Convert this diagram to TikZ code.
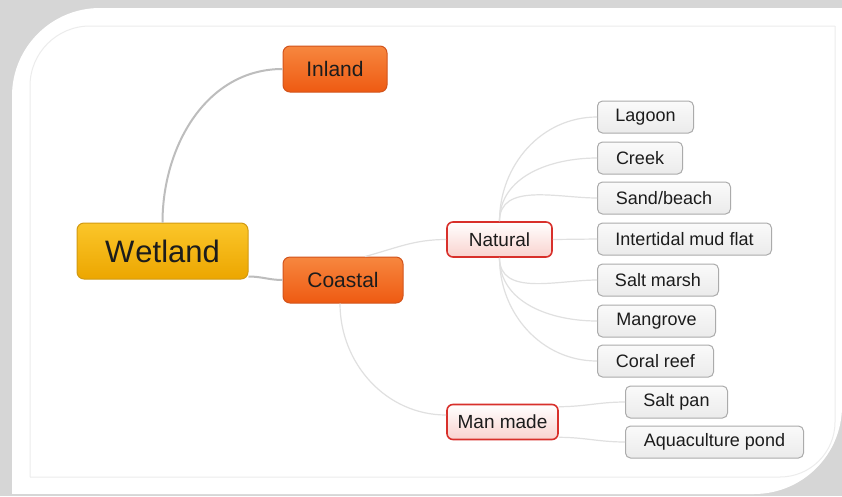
\documentclass[tikz,border=0pt]{standalone}
\usepackage{fontspec}
\setmainfont{Liberation Sans}
\definecolor{bggray}{HTML}{D6D6D6}
\definecolor{frameline}{HTML}{ECECEC}
\definecolor{goldtop}{HTML}{FBC62A}
\definecolor{goldbot}{HTML}{ECA600}
\definecolor{golddraw}{HTML}{D29A12}
\definecolor{orangetop}{HTML}{F7873F}
\definecolor{orangebot}{HTML}{EE5A12}
\definecolor{orangedraw}{HTML}{D2541C}
\definecolor{redbot}{HTML}{F9D2CE}
\definecolor{reddraw}{HTML}{D8302B}
\definecolor{leaftop}{HTML}{FAFAFA}
\definecolor{leafbot}{HTML}{EBEBEB}
\definecolor{leafdraw}{HTML}{ABABAB}
\definecolor{textcol}{HTML}{1C1C1C}
\definecolor{linkmain}{HTML}{BDBDBD}
\definecolor{linklight}{HTML}{E0E0E0}
\begin{document}
\begin{tikzpicture}[x=1pt,y=-1pt,
    box/.style={rounded corners=7pt,inner sep=0pt,text=textcol,align=center},
    rootbox/.style={box,top color=goldtop,bottom color=goldbot,draw=golddraw,line width=1pt,
      minimum width=171pt,minimum height=56pt,font=\fontsize{31}{31}\selectfont},
    areabox/.style={box,top color=orangetop,bottom color=orangebot,draw=orangedraw,line width=1pt,
      minimum height=46pt,font=\fontsize{21}{21}\selectfont},
    kindbox/.style={box,rounded corners=6pt,top color=white,bottom color=redbot,draw=reddraw,line width=1.6pt,
      minimum height=35pt,font=\fontsize{19}{19}\selectfont},
    leafbox/.style={box,rounded corners=5pt,top color=leaftop,bottom color=leafbot,draw=leafdraw,line width=1pt,
      minimum height=32pt,anchor=west,font=\fontsize{18}{18}\selectfont},
    mainlink/.style={draw=linkmain,line width=2pt},
    softlink/.style={draw=linklight,line width=1.2pt}]
  \useasboundingbox (0,0) rectangle (842,496);
  % frame
  \fill[bggray] (0,0) rectangle (842,496);
  \fill[white,rounded corners=88pt] (12,8) rectangle (842,494);
  \fill[white] (700,8) rectangle (842,150);
  \fill[white] (12,400) rectangle (150,494);
  \draw[frameline,line width=1pt,rounded corners=60pt] (30,477) -- (30,26) -- (835,26);
  \draw[frameline,line width=1pt,rounded corners=55pt] (835,26) -- (835,477) -- (30,477);

  \draw
    (162.5,251) node[rootbox] (wetland){W\kern1pt etland}
    (335,69) node[areabox,minimum width=104pt] (inland){Inland}
    (343,280) node[areabox,minimum width=120pt] (coastal){Coastal}
    (499.5,239.5) node[kindbox,minimum width=105pt] (natural){Natural}
    (502.5,422) node[kindbox,minimum width=111pt] (manmade){Man made}
    (597,117) node[leafbox,minimum width=96pt] (lagoon){Lagoon}
    (597,158) node[leafbox,minimum width=85pt] (creek){Creek}
    (597,198) node[leafbox,minimum width=133pt] (sand){Sand/beach}
    (597,239) node[leafbox,minimum width=174pt] (mudflat){Intertidal mud flat}
    (597,280) node[leafbox,minimum width=121pt] (saltmarsh){Salt marsh}
    (597,321) node[leafbox,minimum width=118pt] (mangrove){Mangrove}
    (597,361) node[leafbox,minimum width=116pt] (coral){Coral reef}
    (625,402) node[leafbox,minimum width=102pt] (saltpan){Salt pan}
    (625,442) node[leafbox,minimum width=178pt] (aqua){Aquaculture pond};
  \begin{scope}[-]
    \draw[mainlink] (wetland.north) to[out=90,in=180] (inland.west);
    \draw[mainlink] ([yshift=3pt]wetland.south east) to[out=0,in=180] (coastal.west);
    \draw[softlink] ([xshift=22pt]coastal.north) to[out=15,in=180] (natural.west);
    \draw[softlink] ([xshift=-3pt]coastal.south) to[out=-90,in=180] ([yshift=7pt]manmade.west);
    \draw[softlink] (natural.north) to[out=90,in=180] (lagoon.west);
    \draw[softlink] (natural.north) to[out=90,in=180] (creek.west);
    \draw[softlink] (natural.north) to[out=90,in=180] (sand.west);
    \draw[softlink] (natural.east) to (mudflat.west);
    \draw[softlink] (natural.south) to[out=-90,in=180] (saltmarsh.west);
    \draw[softlink] (natural.south) to[out=-90,in=180] (mangrove.west);
    \draw[softlink] (natural.south) to[out=-90,in=180] (coral.west);
    \draw[softlink] ([yshift=-3pt]manmade.north east) to[out=0,in=180] (saltpan.west);
    \draw[softlink] ([yshift=3pt]manmade.south east) to[out=0,in=180] (aqua.west);
  \end{scope}
\end{tikzpicture}
\end{document}
